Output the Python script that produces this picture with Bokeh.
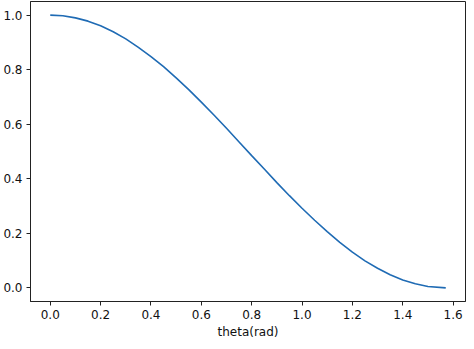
from bokeh.plotting import figure
from bokeh.models import Range1d, FixedTicker, PrintfTickFormatter
from bokeh.embed import file_html
from bokeh.resources import INLINE

theta = [0.00, 0.05, 0.10, 0.15, 0.20, 0.25, 0.30, 0.35, 0.40, 0.45, 0.50,
         0.55, 0.60, 0.65, 0.70, 0.75, 0.80, 0.85, 0.90, 0.95, 1.00, 1.05,
         1.10, 1.15, 1.20, 1.25, 1.30, 1.35, 1.40, 1.45, 1.50, 1.5708]
values = [1.000, 0.998, 0.990, 0.978, 0.961, 0.939, 0.913, 0.882, 0.848,
          0.811, 0.770, 0.727, 0.681, 0.634, 0.585, 0.535, 0.485, 0.436,
          0.386, 0.338, 0.292, 0.248, 0.206, 0.167, 0.131, 0.099, 0.072,
          0.048, 0.029, 0.015, 0.005, 0.000]
x_ticks = [0.0, 0.2, 0.4, 0.6, 0.8, 1.0, 1.2, 1.4, 1.6]
y_ticks = [0.0, 0.2, 0.4, 0.6, 0.8, 1.0]

p = figure(width=466, height=341, output_backend="svg", toolbar_location=None,
           x_range=Range1d(-0.0785, 1.6493), y_range=Range1d(-0.05, 1.05))
p.min_border_top = 1
p.min_border_right = 1
p.min_border_left = 2
p.min_border_bottom = 2
p.background_fill_color = "white"
p.border_fill_color = "white"
p.outline_line_color = "#222222"
p.outline_line_width = 1
p.grid.visible = False

p.line(theta, values, line_color="#1f6bb4", line_width=1.6)

for ax in (p.xaxis[0], p.yaxis[0]):
    ax.major_tick_out = 4
    ax.major_tick_in = 0
    ax.minor_tick_line_color = None
    ax.axis_line_color = "#222222"
    ax.major_tick_line_color = "#222222"
    ax.major_label_text_font = "DejaVu Sans"
    ax.major_label_text_font_size = "12px"
    ax.major_label_text_color = "#111111"
    ax.major_label_standoff = 4

p.xaxis[0].ticker = FixedTicker(ticks=x_ticks)
p.yaxis[0].ticker = FixedTicker(ticks=y_ticks)
p.xaxis[0].formatter = PrintfTickFormatter(format="%.1f")
p.yaxis[0].formatter = PrintfTickFormatter(format="%.1f")
p.xaxis[0].axis_label = "theta(rad)"
p.xaxis[0].axis_label_text_font = "DejaVu Sans"
p.xaxis[0].axis_label_text_font_size = "12px"
p.xaxis[0].axis_label_text_font_style = "normal"
p.xaxis[0].axis_label_text_color = "#111111"
p.xaxis[0].axis_label_standoff = 3

open("out.html", "w").write(file_html(p, INLINE))
